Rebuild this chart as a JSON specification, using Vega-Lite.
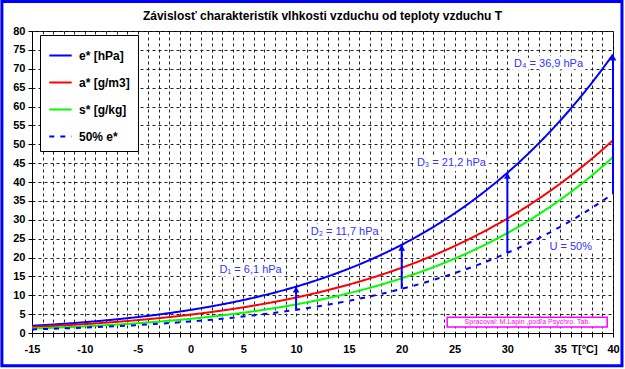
{
  "$schema": "https://vega.github.io/schema/vega-lite/v6.json",
  "width": 581,
  "height": 302,
  "autosize": {"type": "none"},
  "padding": {"left": 32, "top": 31, "right": 12, "bottom": 36},
  "background": "white",
  "config": {"view": {"stroke": "black", "strokeWidth": 1}, "font": "Liberation Sans"},
  "datasets": {
    "curves": [
      {"T": -15, "e": 1.91, "a": 1.60, "s": 1.17, "h": 0.96},
      {"T": -14, "e": 2.08, "a": 1.74, "s": 1.28, "h": 1.04},
      {"T": -13, "e": 2.25, "a": 1.87, "s": 1.38, "h": 1.13},
      {"T": -12, "e": 2.44, "a": 2.03, "s": 1.50, "h": 1.22},
      {"T": -11, "e": 2.64, "a": 2.18, "s": 1.62, "h": 1.32},
      {"T": -10, "e": 2.86, "a": 2.36, "s": 1.76, "h": 1.43},
      {"T": -9, "e": 3.10, "a": 2.54, "s": 1.91, "h": 1.55},
      {"T": -8, "e": 3.35, "a": 2.74, "s": 2.06, "h": 1.68},
      {"T": -7, "e": 3.62, "a": 2.95, "s": 2.23, "h": 1.81},
      {"T": -6, "e": 3.91, "a": 3.17, "s": 2.40, "h": 1.96},
      {"T": -5, "e": 4.22, "a": 3.41, "s": 2.60, "h": 2.11},
      {"T": -4, "e": 4.55, "a": 3.66, "s": 2.80, "h": 2.28},
      {"T": -3, "e": 4.90, "a": 3.93, "s": 3.01, "h": 2.45},
      {"T": -2, "e": 5.28, "a": 4.22, "s": 3.25, "h": 2.64},
      {"T": -1, "e": 5.68, "a": 4.52, "s": 3.50, "h": 2.84},
      {"T": 0, "e": 6.11, "a": 4.85, "s": 3.76, "h": 3.06},
      {"T": 1, "e": 6.57, "a": 5.19, "s": 4.04, "h": 3.29},
      {"T": 2, "e": 7.06, "a": 5.56, "s": 4.35, "h": 3.53},
      {"T": 3, "e": 7.58, "a": 5.95, "s": 4.67, "h": 3.79},
      {"T": 4, "e": 8.13, "a": 6.36, "s": 5.01, "h": 4.07},
      {"T": 5, "e": 8.72, "a": 6.79, "s": 5.37, "h": 4.36},
      {"T": 6, "e": 9.35, "a": 7.26, "s": 5.76, "h": 4.68},
      {"T": 7, "e": 10.02, "a": 7.75, "s": 6.18, "h": 5.01},
      {"T": 8, "e": 10.72, "a": 8.26, "s": 6.61, "h": 5.36},
      {"T": 9, "e": 11.47, "a": 8.81, "s": 7.07, "h": 5.74},
      {"T": 10, "e": 12.27, "a": 9.39, "s": 7.57, "h": 6.14},
      {"T": 11, "e": 13.12, "a": 10.01, "s": 8.10, "h": 6.56},
      {"T": 12, "e": 14.02, "a": 10.66, "s": 8.65, "h": 7.01},
      {"T": 13, "e": 14.97, "a": 11.34, "s": 9.24, "h": 7.49},
      {"T": 14, "e": 15.98, "a": 12.06, "s": 9.87, "h": 7.99},
      {"T": 15, "e": 17.04, "a": 12.82, "s": 10.53, "h": 8.52},
      {"T": 16, "e": 18.17, "a": 13.62, "s": 11.23, "h": 9.09},
      {"T": 17, "e": 19.37, "a": 14.47, "s": 11.98, "h": 9.69},
      {"T": 18, "e": 20.63, "a": 15.36, "s": 12.77, "h": 10.32},
      {"T": 19, "e": 21.96, "a": 16.29, "s": 13.60, "h": 10.98},
      {"T": 20, "e": 23.37, "a": 17.28, "s": 14.48, "h": 11.69},
      {"T": 21, "e": 24.86, "a": 18.31, "s": 15.41, "h": 12.43},
      {"T": 22, "e": 26.43, "a": 19.41, "s": 16.39, "h": 13.22},
      {"T": 23, "e": 28.09, "a": 20.55, "s": 17.43, "h": 14.05},
      {"T": 24, "e": 29.83, "a": 21.75, "s": 18.52, "h": 14.92},
      {"T": 25, "e": 31.67, "a": 23.02, "s": 19.68, "h": 15.84},
      {"T": 26, "e": 33.61, "a": 24.35, "s": 20.90, "h": 16.81},
      {"T": 27, "e": 35.65, "a": 25.74, "s": 22.19, "h": 17.83},
      {"T": 28, "e": 37.80, "a": 27.20, "s": 23.54, "h": 18.90},
      {"T": 29, "e": 40.06, "a": 28.73, "s": 24.97, "h": 20.03},
      {"T": 30, "e": 42.43, "a": 30.33, "s": 26.47, "h": 21.22},
      {"T": 31, "e": 44.93, "a": 32.01, "s": 28.06, "h": 22.47},
      {"T": 32, "e": 47.55, "a": 33.77, "s": 29.72, "h": 23.78},
      {"T": 33, "e": 50.31, "a": 35.61, "s": 31.48, "h": 25.16},
      {"T": 34, "e": 53.20, "a": 37.53, "s": 33.33, "h": 26.60},
      {"T": 35, "e": 56.24, "a": 39.55, "s": 35.27, "h": 28.12},
      {"T": 36, "e": 59.42, "a": 41.65, "s": 37.31, "h": 29.71},
      {"T": 37, "e": 62.76, "a": 43.85, "s": 39.46, "h": 31.38},
      {"T": 38, "e": 66.26, "a": 46.15, "s": 41.72, "h": 33.13},
      {"T": 39, "e": 69.93, "a": 48.55, "s": 44.09, "h": 34.97},
      {"T": 40, "e": 73.77, "a": 51.05, "s": 46.58, "h": 36.89}
    ],
    "arrows": [
      {"T": 10, "v": 12.27, "v2": 6.14},
      {"T": 20, "v": 23.37, "v2": 11.69},
      {"T": 30, "v": 42.43, "v2": 21.22},
      {"T": 40, "v": 73.77, "v2": 36.89}
    ],
    "notes": [
      {"T": 5.7, "v": 16.7, "label": "D₁ = 6,1 hPa"},
      {"T": 14.6, "v": 26.8, "label": "D₂ = 11,7 hPa"},
      {"T": 24.7, "v": 45.0, "label": "D₃ = 21,2 hPa"},
      {"T": 33.9, "v": 71.3, "label": "D₄ = 36,9 hPa"},
      {"T": 36.0, "v": 22.8, "label": "U = 50%"}
    ],
    "creditbox": [
      {"T": 24.3, "T2": 39.45, "v": 1.6, "v2": 4.2}
    ],
    "credittext": [
      {"T": 31.9, "v": 2.9, "label": "Spracoval: M.Lapin ,podľa Psychro. Tab."}
    ],
    "heading": [
      {"T": 12.5, "v": 84.0, "label": "Závislosť charakteristík vlhkosti vzduchu od teploty vzduchu T"}
    ],
    "frame": [
      {"T": -17.85, "T2": 40.85, "v": -8.7, "v2": 87.8}
    ]
  },
  "encoding": {
    "x": {"field": "T", "type": "quantitative",
      "scale": {"domain": [-15, 40], "nice": false, "zero": false},
      "axis": {"title": "T[°C]", "titleX": 552, "titleY": 10, "titleAlign": "center", "titleBaseline": "top", "titleFont": "Liberation Sans", "titleFontSize": 11, "titleFontWeight": "bold", "titleColor": "black",
        "values": [-15,-14,-13,-12,-11,-10,-9,-8,-7,-6,-5,-4,-3,-2,-1,0,1,2,3,4,5,6,7,8,9,10,11,12,13,14,15,16,17,18,19,20,21,22,23,24,25,26,27,28,29,30,31,32,33,34,35,36,37,38,39,40],
        "labelExpr": "datum.value % 5 == 0 ? replace(datum.label, '−', '-') : ''",
        "labelOverlap": false,
        "labelFont": "Liberation Sans", "labelFontSize": 11, "labelFontWeight": "bold", "labelColor": "black", "labelPadding": 6, "labelFlush": false,
        "tickSize": 4, "tickColor": "black", "domainColor": "black",
        "grid": true, "gridColor": "#222", "gridDash": [3, 3], "gridWidth": 1}},
    "y": {"field": "v", "type": "quantitative",
      "scale": {"domain": [0, 80], "nice": false, "zero": false},
      "axis": {"title": null, "values": [0,5,10,15,20,25,30,35,40,45,50,55,60,65,70,75,80],
        "labelOverlap": false,
        "labelFont": "Liberation Sans", "labelFontSize": 11, "labelFontWeight": "bold", "labelColor": "black", "labelPadding": 3, "labelFlush": false,
        "tickSize": 4, "tickColor": "black", "domainColor": "black",
        "grid": true, "gridColor": "#222", "gridDash": [3, 3], "gridWidth": 1}}
  },
  "layer": [
    {
      "data": {"name": "notes"},
      "mark": {"type": "text", "color": "white", "stroke": "white", "strokeWidth": 7, "strokeJoin": "round", "font": "Liberation Sans", "fontSize": 11, "align": "center", "baseline": "middle"},
      "encoding": {"text": {"field": "label"}}
    },
    {
      "data": {"name": "curves"},
      "transform": [{"fold": ["e", "a", "s", "h"], "as": ["series", "v"]}],
      "mark": {"type": "line", "strokeJoin": "round"},
      "encoding": {
        "color": {"field": "series", "type": "nominal",
          "scale": {"domain": ["e", "a", "s", "h"], "range": ["#0000ff", "#ff0000", "#00ff00", "#0000ff"]},
          "legend": {"orient": "none", "legendX": 8, "legendY": 4, "title": null, "fillColor": "white", "strokeColor": "black", "padding": 8, "rowPadding": 8, "symbolType": "stroke", "symbolSize": 500, "labelFont": "Liberation Sans", "labelFontSize": 12, "labelFontWeight": "bold", "labelColor": "black", "labelOffset": 6,
            "labelExpr": "datum.value == 'e' ? 'e* [hPa]' : datum.value == 'a' ? 'a* [g/m3]' : datum.value == 's' ? 's* [g/kg]' : '50% e*'"}},
        "strokeDash": {"field": "series", "type": "nominal",
          "scale": {"domain": ["e", "a", "s", "h"], "range": [[1, 0], [1, 0], [1, 0], [5, 6]]},
          "legend": {"orient": "none", "legendX": 8, "legendY": 4, "title": null, "fillColor": "white", "strokeColor": "black", "padding": 8, "rowPadding": 8, "symbolType": "stroke", "symbolSize": 500, "labelFont": "Liberation Sans", "labelFontSize": 12, "labelFontWeight": "bold", "labelColor": "black", "labelOffset": 6,
            "labelExpr": "datum.value == 'e' ? 'e* [hPa]' : datum.value == 'a' ? 'a* [g/m3]' : datum.value == 's' ? 's* [g/kg]' : '50% e*'"}},
        "strokeWidth": {"field": "series", "type": "nominal",
          "scale": {"domain": ["e", "a", "s", "h"], "range": [2, 2, 2, 3]},
          "legend": {"orient": "none", "legendX": 8, "legendY": 4, "title": null, "fillColor": "white", "strokeColor": "black", "padding": 8, "rowPadding": 8, "symbolType": "stroke", "symbolSize": 500, "labelFont": "Liberation Sans", "labelFontSize": 12, "labelFontWeight": "bold", "labelColor": "black", "labelOffset": 6,
            "labelExpr": "datum.value == 'e' ? 'e* [hPa]' : datum.value == 'a' ? 'a* [g/m3]' : datum.value == 's' ? 's* [g/kg]' : '50% e*'"}}
      }
    },
    {
      "data": {"name": "arrows"},
      "mark": {"type": "rule", "color": "#0000ff", "strokeWidth": 2},
      "encoding": {"y2": {"field": "v2"}}
    },
    {
      "data": {"name": "arrows"},
      "mark": {"type": "point", "shape": "triangle-up", "filled": true, "color": "#0000ff", "size": 45, "opacity": 1, "yOffset": 3},
      "encoding": {}
    },
    {
      "data": {"name": "notes"},
      "mark": {"type": "text", "color": "#3333ff", "font": "Liberation Sans", "fontSize": 11, "align": "center", "baseline": "middle"},
      "encoding": {"text": {"field": "label"}}
    },
    {
      "data": {"name": "creditbox"},
      "mark": {"type": "rect", "fill": "white", "stroke": "#ff00ff", "strokeWidth": 1.5},
      "encoding": {"x2": {"field": "T2"}, "y2": {"field": "v2"}}
    },
    {
      "data": {"name": "credittext"},
      "mark": {"type": "text", "color": "#ff00ff", "font": "Liberation Sans", "fontSize": 7, "align": "center", "baseline": "middle"},
      "encoding": {"text": {"field": "label"}}
    },
    {
      "data": {"name": "heading"},
      "mark": {"type": "text", "color": "black", "font": "Liberation Sans", "fontSize": 12, "fontWeight": "bold", "align": "center", "baseline": "middle"},
      "encoding": {"text": {"field": "label"}}
    },
    {
      "data": {"name": "frame"},
      "mark": {"type": "rect", "fill": null, "fillOpacity": 0, "stroke": "#0000ff", "strokeWidth": 3},
      "encoding": {"x2": {"field": "T2"}, "y2": {"field": "v2"}}
    }
  ]
}
